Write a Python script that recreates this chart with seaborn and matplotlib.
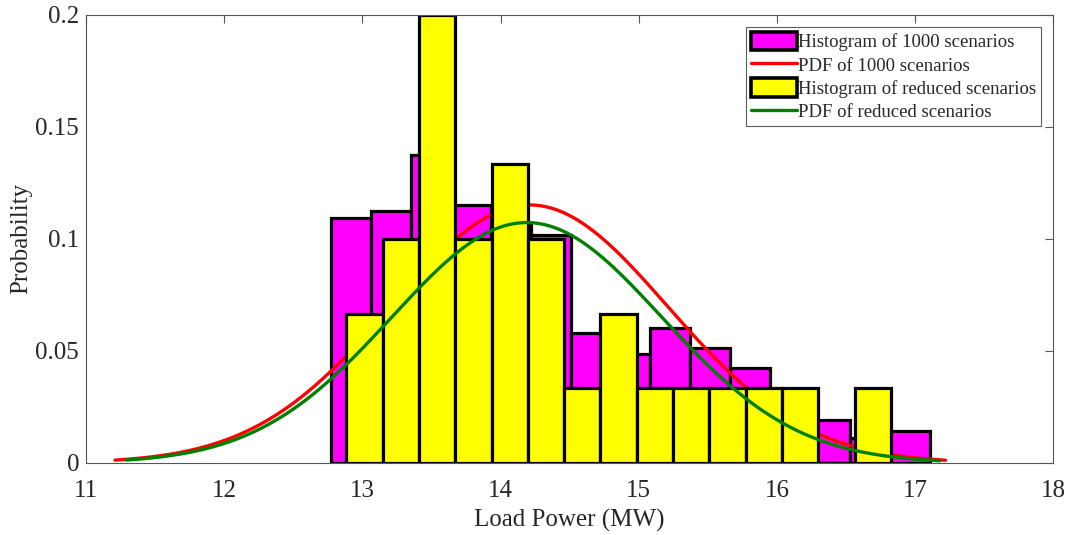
import numpy as np
import pandas as pd
import matplotlib
matplotlib.use("Agg")
import matplotlib.pyplot as plt
import seaborn as sns
from matplotlib.patches import Patch
from matplotlib.lines import Line2D

# ---- data ----
all_bin_start = 12.776
all_bin_width = 0.2886
all_probs = [0.1094, 0.1125, 0.1375, 0.1150, 0.1060, 0.1015, 0.0582, 0.0487,
             0.0604, 0.0515, 0.0422, 0.0130, 0.0192, 0.0110, 0.0143]

red_bin_start = 12.884
red_bin_width = 0.2627
red_probs = [2/30, 3/30, 6/30, 3/30, 4/30, 3/30, 1/30, 2/30,
             1/30, 1/30, 1/30, 1/30, 1/30, 0/30, 1/30]

pdf_all_mu, pdf_all_sigma, pdf_all_range = 14.21, 1.0, (11.21, 17.22)
pdf_red_mu, pdf_red_sigma, pdf_red_range = 14.19, 0.977, (11.29, 17.18)

x_ticks = [11, 12, 13, 14, 15, 16, 17, 18]
y_ticks = [0, 0.05, 0.1, 0.15, 0.2]
y_tick_labels = ["0", "0.05", "0.1", "0.15", "0.2"]

sns.set_style("white")
plt.rcParams['font.family'] = ['Liberation Serif', 'DejaVu Serif']
plt.rcParams['mathtext.fontset'] = 'stix'

fig = plt.figure(figsize=(10.72, 5.35), dpi=100)
ax = fig.add_axes([0.0802, 0.1346, 0.9023, 0.8379])

def hist_df(start, width, probs):
    n = len(probs)
    edges = start + width * np.arange(n + 1)
    centers = (edges[:-1] + edges[1:]) / 2
    return pd.DataFrame({"x": centers, "w": probs}), [float(e) for e in edges]

df_all, edges_all = hist_df(all_bin_start, all_bin_width, all_probs)
df_red, edges_red = hist_df(red_bin_start, red_bin_width, red_probs)

def pdf_curve(mu, sigma, rng, width):
    xs = np.linspace(rng[0], rng[1], 400)
    ys = width * np.exp(-0.5 * ((xs - mu) / sigma) ** 2) / (sigma * np.sqrt(2 * np.pi))
    return xs, ys

sns.histplot(data=df_all, x="x", weights="w", bins=edges_all, stat="count",
             color="#ff00ff", alpha=1, edgecolor="black", linewidth=2.3, ax=ax)
n_first = len(ax.patches)
for p in ax.patches:
    p.set_zorder(1)
xs, ys = pdf_curve(pdf_all_mu, pdf_all_sigma, pdf_all_range, all_bin_width)
ax.plot(xs, ys, color="#ff0000", linewidth=2.4, zorder=2)
sns.histplot(data=df_red, x="x", weights="w", bins=edges_red, stat="count",
             color="#ffff00", alpha=1, edgecolor="black", linewidth=2.3, ax=ax)
for p in ax.patches[n_first:]:
    p.set_zorder(3)
xs2, ys2 = pdf_curve(pdf_red_mu, pdf_red_sigma, pdf_red_range, red_bin_width)
ax.plot(xs2, ys2, color="#008000", linewidth=2.4, zorder=4)

ax.set_xlim(11, 18)
ax.set_ylim(0, 0.2)
ax.set_xticks(x_ticks)
ax.set_xticklabels([str(t) for t in x_ticks])
ax.set_yticks(y_ticks)
ax.set_yticklabels(y_tick_labels)
ax.tick_params(direction="in", length=6, width=0.8, colors="#555555", labelcolor="#262626",
               labelsize=18, top=True, right=True)
ax.tick_params(axis="x", pad=12)
ax.tick_params(axis="y", pad=5)
for s in ax.spines.values():
    s.set_color("#555555")
    s.set_linewidth(0.8)
    s.set_zorder(5)
ax.set_xlabel("Load Power (MW)", fontsize=18, color="#262626", labelpad=5)
ax.set_ylabel("Probability", fontsize=18, color="#262626", labelpad=2)

handles = [Patch(facecolor="#ff00ff", edgecolor="black", linewidth=2.6),
           Line2D([0], [0], color="#ff0000", linewidth=2.4),
           Patch(facecolor="#ffff00", edgecolor="black", linewidth=2.6),
           Line2D([0], [0], color="#008000", linewidth=2.4)]
labels = ["Histogram of 1000 scenarios", "PDF of 1000 scenarios",
          "Histogram of reduced scenarios", "PDF of reduced scenarios"]
leg = ax.legend(handles, labels, loc="upper right", bbox_to_anchor=(0.9875, 0.973),
                fontsize=13.5, frameon=True, fancybox=False, handlelength=2.45,
                handleheight=1.15, handletextpad=0.08, borderpad=0.25, labelspacing=0.2,
                borderaxespad=0)
leg.get_frame().set_edgecolor("#333333")
leg.get_frame().set_linewidth(0.8)
leg.set_zorder(6)

fig.savefig("out.png", dpi=100)
